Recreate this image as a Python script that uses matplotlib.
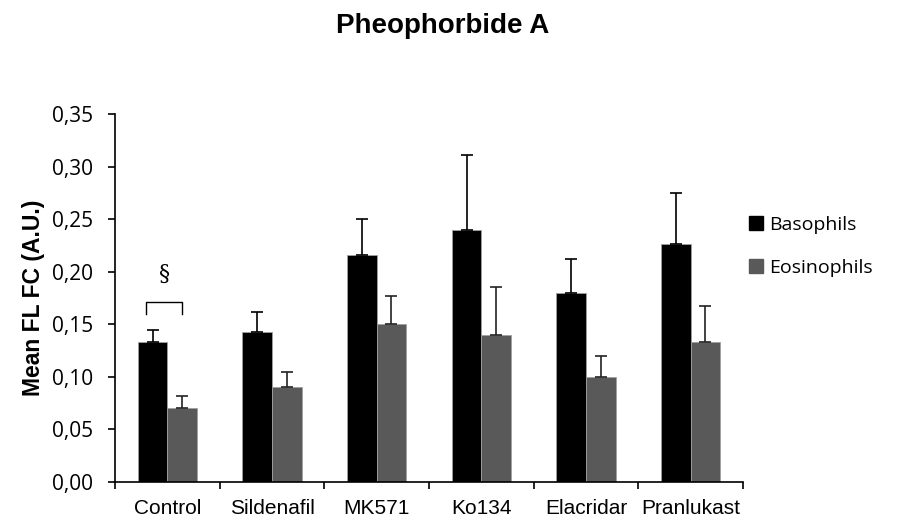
import numpy as np
import matplotlib
matplotlib.use("Agg")
from matplotlib import pyplot as plt
from matplotlib.patches import Patch

categories = ["Control", "Sildenafil", "MK571", "Ko134", "Elacridar", "Pranlukast"]
basophils = [0.133, 0.143, 0.216, 0.240, 0.180, 0.226]
basophils_err = [0.012, 0.019, 0.034, 0.071, 0.032, 0.049]
eosinophils = [0.070, 0.090, 0.150, 0.140, 0.100, 0.133]
eosinophils_err = [0.012, 0.015, 0.027, 0.045, 0.020, 0.034]
yticks = [0.0, 0.05, 0.10, 0.15, 0.20, 0.25, 0.30, 0.35]

fig = plt.figure(figsize=(8.97, 5.22), dpi=100)
ax = fig.add_axes([0.1282, 0.0766, 0.7001, 0.705])

x = np.arange(len(categories))
w = 0.283
ax.bar(x - w / 2, basophils, w, color="black", edgecolor="#a0a0a0", linewidth=0.6,
       yerr=[np.zeros(len(x)), basophils_err], capsize=4,
       error_kw=dict(elinewidth=1.2, capthick=1.2, ecolor="black"))
ax.bar(x + w / 2, eosinophils, w, color="#595959", edgecolor="#a0a0a0", linewidth=0.6,
       yerr=[np.zeros(len(x)), eosinophils_err], capsize=4,
       error_kw=dict(elinewidth=1.2, capthick=1.2, ecolor="#222222"))

ax.set_xlim(-0.5, len(categories) - 0.5)
ax.set_ylim(0, 0.35)
ax.set_yticks(yticks)
ax.set_yticklabels([f"{v:.2f}".replace(".", ",") for v in yticks],
                   fontsize=15, family="Open Sans")
ax.set_xticks(x)
ax.set_xticklabels(categories, fontsize=15, family="Liberation Sans")
ax.tick_params(axis="x", length=0, pad=12)
ax.set_xticks(np.arange(-0.5, len(categories)), minor=True)
ax.tick_params(axis="x", which="minor", length=5, width=1.2, direction="out")
ax.tick_params(axis="y", length=5, width=1.2, direction="out", pad=11)
for s in ["top", "right"]:
    ax.spines[s].set_visible(False)
ax.spines["left"].set_linewidth(1.2)
ax.spines["bottom"].set_linewidth(1.2)

ax.set_ylabel("Mean FL FC (A.U.)", fontsize=16.5, fontweight="bold",
              family="Liberation Sans", labelpad=5)

# significance bracket on Control
ax.plot([-0.203, -0.203, 0.141, 0.141], [0.160, 0.171, 0.171, 0.160],
        color="black", linewidth=1)
ax.text(-0.03, 0.198, "§", ha="center", va="center", fontsize=16,
        family="DejaVu Serif")

fig.text(0.493, 0.937, "Pheophorbide A", ha="center", va="baseline",
         fontsize=20, fontweight="bold", family="Liberation Sans")

handles = [Patch(color="black"), Patch(color="#595959")]
fig.legend(handles, ["Basophils", "Eosinophils"], loc="center left",
           bbox_to_anchor=(0.815, 0.528), frameon=False,
           prop=dict(family="Open Sans", size=14), handlelength=0.75,
           handleheight=0.75, handletextpad=0.3, labelspacing=1.3)

fig.savefig("out.png", dpi=100)
